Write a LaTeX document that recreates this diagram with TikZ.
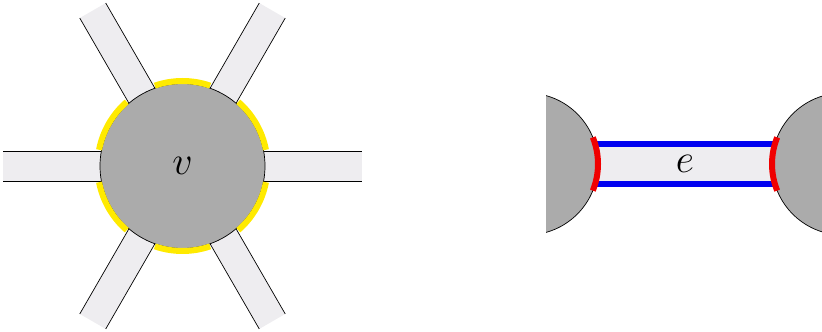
\RequirePackage{fix-cm}
\documentclass[tikz,border=0pt]{standalone}
\definecolor{diskgray}{RGB}{171,171,171}
\definecolor{bandgray}{RGB}{238,237,240}
\definecolor{hiyellow}{RGB}{255,234,0}
\definecolor{hiblue}{RGB}{0,0,240}
\definecolor{hired}{RGB}{240,0,0}
\usetikzlibrary{calc}

\tikzset{
  disk/.style={fill=diskgray, draw=black, line width=0.7pt},
  band/.style={fill=bandgray},
  bandside/.style={draw=black, line width=0.7pt},
  portyellow/.style={draw=hiyellow, line width=6pt},
  sideblue/.style={draw=hiblue, line width=6pt},
  endred/.style={draw=hired, line width=6pt},
  biglabel/.style={inner sep=0pt, font=\fontsize{40}{44}\selectfont}
}

\begin{document}
\begin{tikzpicture}[x=1pt, y=1pt]
  \useasboundingbox (0,0) rectangle (822,332);

  % vertex with six half-edges
  \coordinate (c) at (182.5,166);
  \foreach \a in {0,60,...,300} {
    \begin{scope}[shift={(c)}, rotate=\a]
      \fill[band] (0,-15) rectangle (179.5,15);
      \draw[bandside] (0,15) -- (179.5,15) (0,-15) -- (179.5,-15);
    \end{scope}
  }
  \draw[disk] (c) circle[radius=82.5];
  \foreach \a in {0,60,...,300} {
    \draw[portyellow] ($(c)+(\a+11:85)$) arc[start angle=\a+11, end angle=\a+49, radius=85];
  }
  \node[biglabel] (v) at (c) {$v$};

  % edge between two vertices
  \begin{scope}
    \clip (546,0) rectangle (822,332);
    \coordinate (l) at (527,168);
    \coordinate (r) at (843,168);
    \fill[band] ($(l)+(0,-20)$) rectangle ($(r)+(0,20)$);
    \draw[disk] (l) circle[radius=71];
    \draw[disk] (r) circle[radius=71];
    \draw[sideblue] ($(l)+(68.1,20)$) -- ($(r)+(-68.1,20)$);
    \draw[sideblue] ($(l)+(68.1,-20)$) -- ($(r)+(-68.1,-20)$);
    \draw[endred] ($(l)+(-22:71)$) arc[start angle=-22, end angle=22, radius=71];
    \draw[endred] ($(r)+(158:71)$) arc[start angle=158, end angle=202, radius=71];
    \node[biglabel] (e) at ($(l)!0.5!(r)$) {$e$};
  \end{scope}
\end{tikzpicture}
\end{document}
